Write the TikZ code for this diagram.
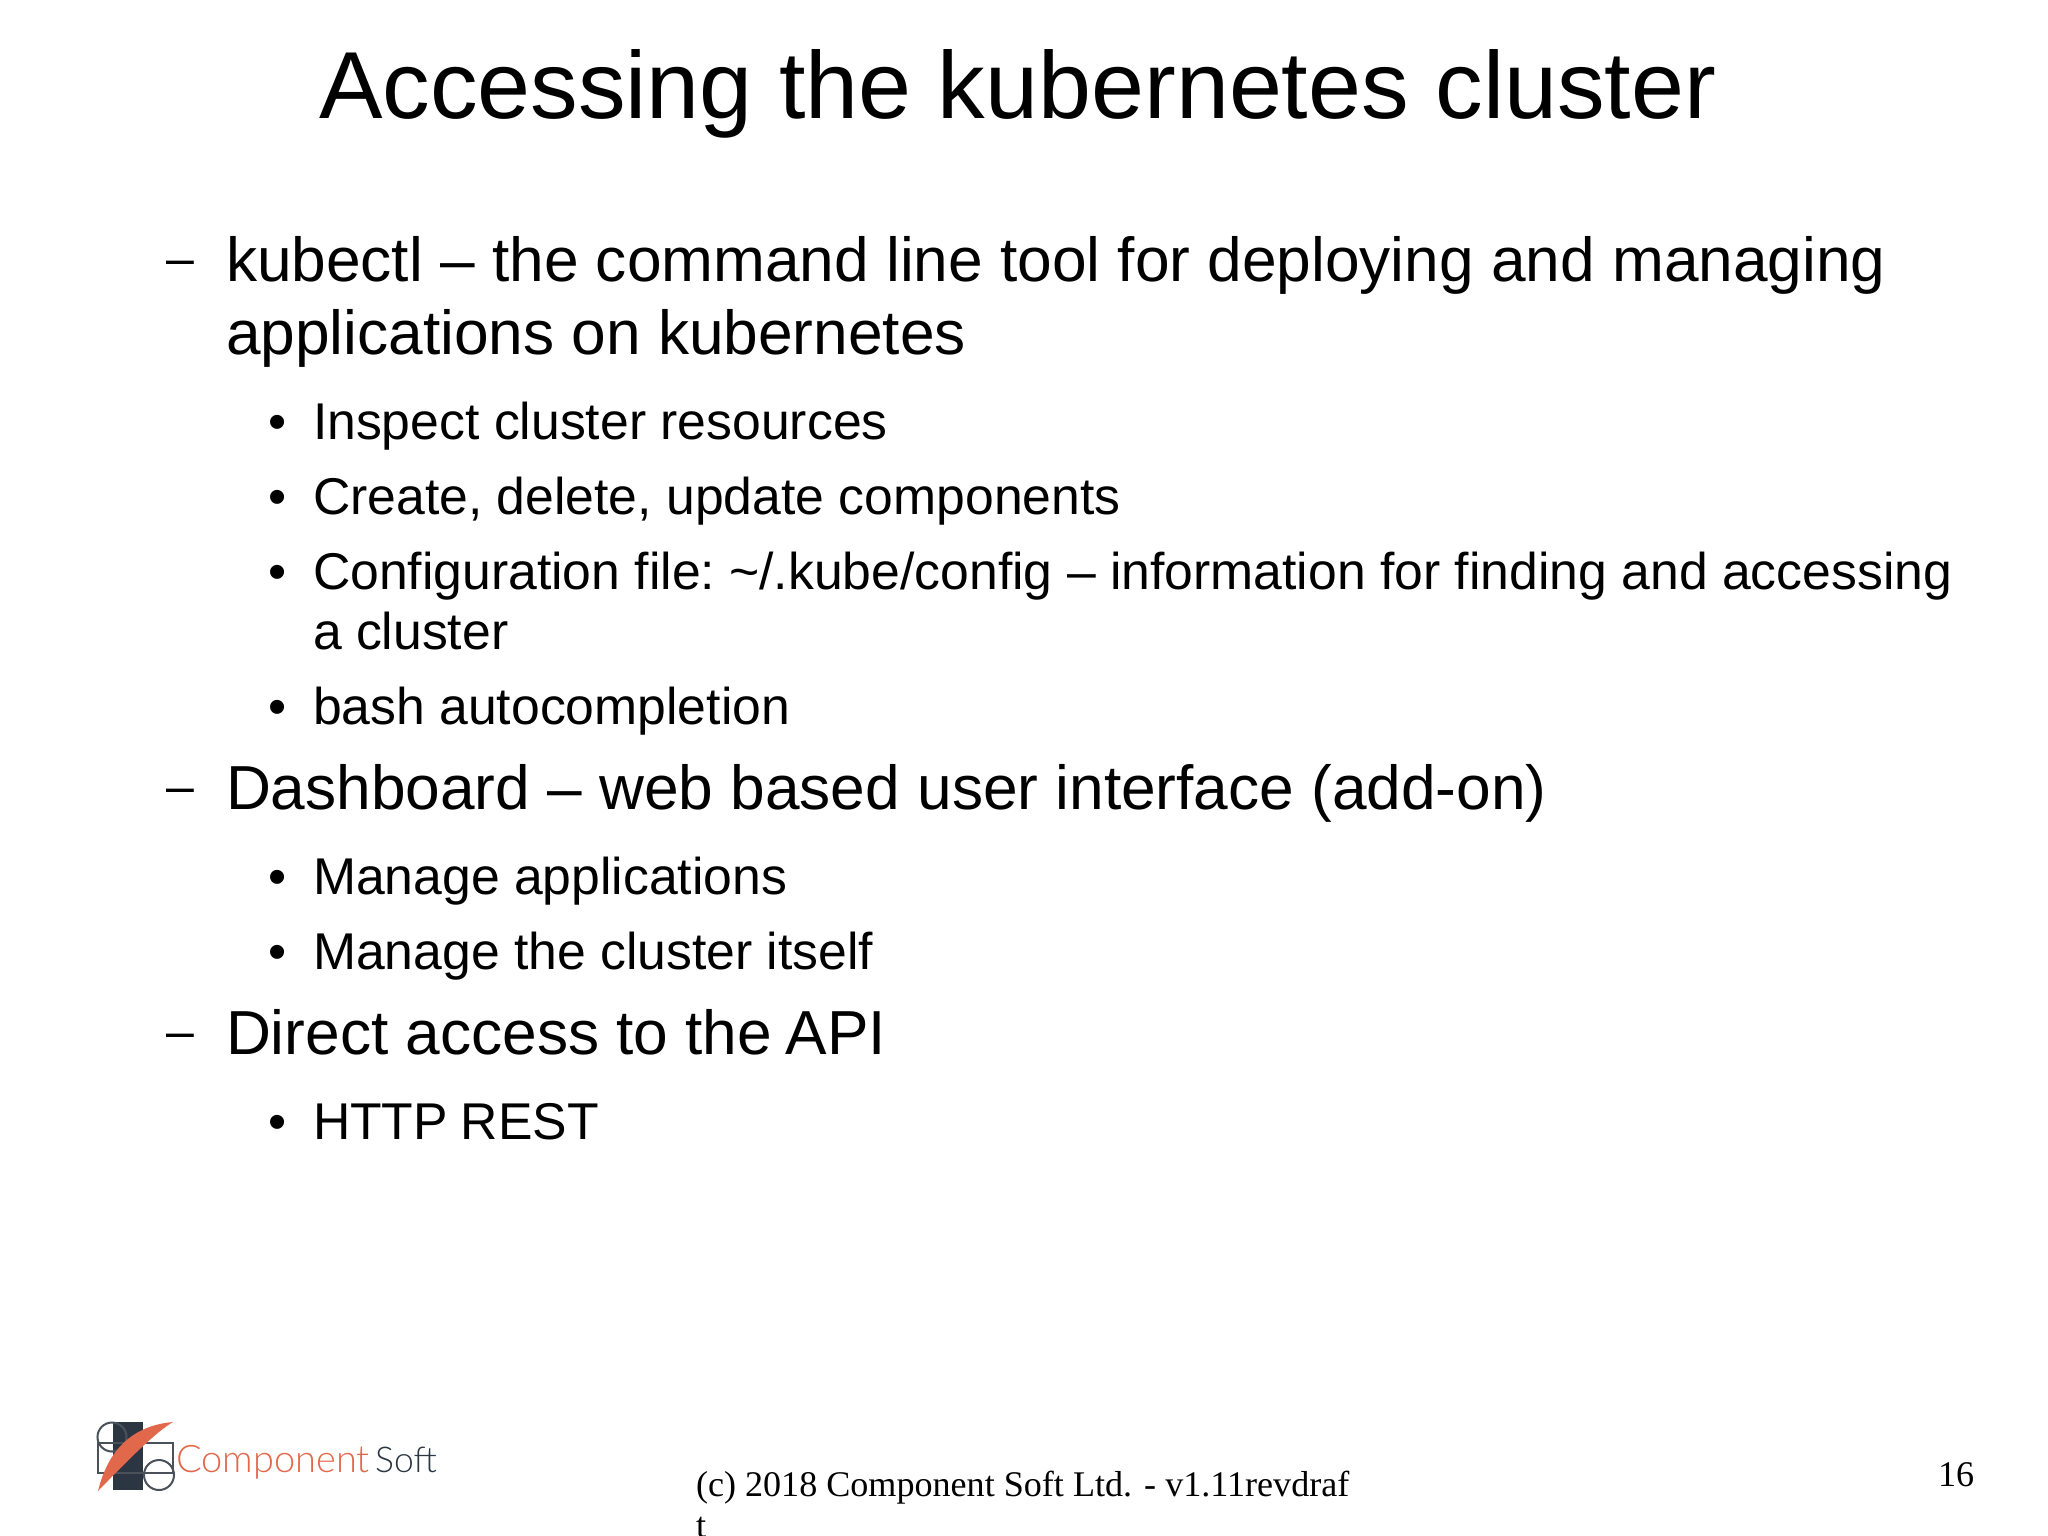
\documentclass[tikz,border=0pt]{standalone}
\usepackage{fontspec}
\setmainfont{Liberation Sans}
\newfontfamily\serifft{Liberation Serif}
\newfontfamily\logoft{Lato Light}
\definecolor{logored}{HTML}{E2684B}
\definecolor{logodark}{HTML}{2B3642}
\definecolor{logogrey}{HTML}{4A515A}
\tikzset{
  x=1pt,y=-1pt,
  txt/.style={anchor=base west,inner sep=0pt,outer sep=0pt,text=black},
  ttl/.style={txt,font=\fontsize{95.2}{95.2}\selectfont},
  lone/.style={txt,font=\fontsize{62.2}{62.2}\selectfont},
  dashm/.style={txt,font=\fontsize{50}{50}\selectfont},
  ltwo/.style={txt,font=\fontsize{51.7}{51.7}\selectfont},
  foot/.style={txt,font=\serifft\fontsize{36.1}{36.1}\selectfont},
  logotxt/.style={anchor=base west,inner sep=0pt,font=\logoft\fontsize{38}{38}\selectfont},
  logoline/.style={draw=logogrey,line width=2pt}
}
\begin{document}
\begin{tikzpicture}
\useasboundingbox (0,0) rectangle (2048,1535);
\clip (0,0) rectangle (2048,1535);
\node[ttl] (title) at (319,118.5) {Accessing the kubernetes cluster};
\node[dashm] (d1) at (166,275) {–};
\node[lone] (a1) at (226,281) {kubectl – the command line tool for deploying and managing};
\node[lone] (a2) at (226,354) {applications on kubernetes};
\node[ltwo] (b1) at (268,439) {•};
\node[ltwo] (a3) at (313,439) {Inspect cluster resources};
\node[ltwo] (b2) at (268,514) {•};
\node[ltwo] (a4) at (313,514) {Create, delete, update components};
\node[ltwo] (b3) at (268,589) {•};
\node[ltwo] (a5) at (313,589) {Configuration file: \hspace{-5pt}\textasciitilde/.kube/config – information for finding and accessing};
\node[ltwo] (a6) at (313,649) {a cluster};
\node[ltwo] (b4) at (268,724) {•};
\node[ltwo] (a7) at (313,724) {bash autocompletion};
\node[dashm] (d2) at (166,803) {–};
\node[lone] (a8) at (226,809) {Dashboard – web based user interface (add-on)};
\node[ltwo] (b5) at (268,894) {•};
\node[ltwo] (a9) at (313,894) {Manage applications};
\node[ltwo] (b6) at (268,969) {•};
\node[ltwo] (a10) at (313,969) {Manage the cluster itself};
\node[dashm] (d3) at (166,1048) {–};
\node[lone] (a11) at (226,1054) {Direct access to the \hspace{-3.5pt}API};
\node[ltwo] (b7) at (268,1139) {•};
\node[ltwo] (a12) at (313,1139) {HTTP \hspace{-1.5pt}REST};
\node[foot] (f1) at (696,1496) {(c) 2018 Component Soft Ltd. - v1.11revdraf};
\node[foot] (f2) at (696,1537) {t};
\node[foot] (pg) at (1938,1486) {16};
% logo
\fill[logodark] (113,1422) rectangle (143,1490);
\draw[logoline] (98,1473) -- (98,1443) -- (173,1443) -- (173,1473) -- cycle;
\draw[logoline] (112,1437) circle (14.5);
\draw[logoline] (159,1475) circle (15);
\fill[logored] (98,1491) .. controls (106,1458) and (126,1426) .. (173,1422) .. controls (156,1432) and (132,1456) .. (98,1491) -- cycle;
\node[logotxt,text=logored] (c1) at (176,1472) {Component};
\node[logotxt,text=logodark,font=\logoft\fontsize{35.5}{35.5}\selectfont] (c2) at (375,1472) {Soft};
\end{tikzpicture}
\end{document}
